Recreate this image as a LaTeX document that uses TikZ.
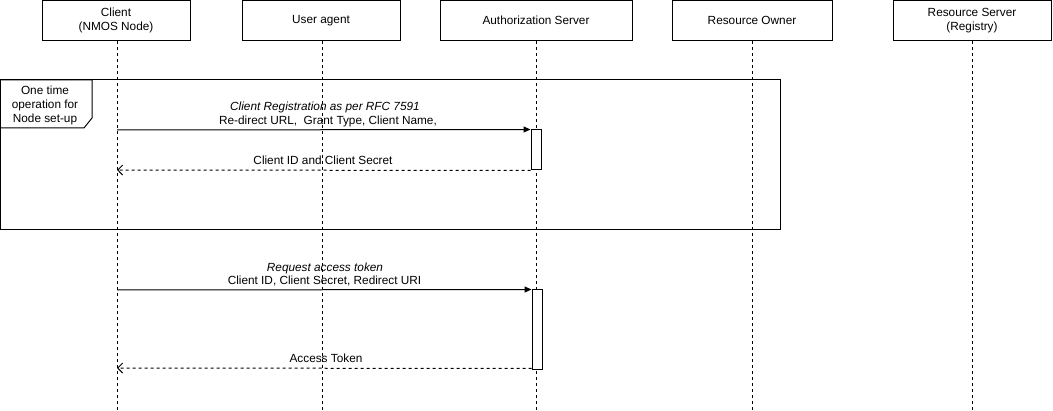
\documentclass[tikz,border=0pt]{standalone}
\usepackage{fontspec}
\setmainfont{Liberation Sans}
\usetikzlibrary{arrows.meta}
\begin{document}
\begin{tikzpicture}[x=1pt,y=-1pt,
  txt/.style={font=\fontsize{11.8}{14}\selectfont},
  hdr/.style={draw, line width=1pt, minimum width=#1, minimum height=40pt, inner sep=0pt, align=center, txt, fill=white},
  life/.style={line width=1pt, dash pattern=on 3pt off 3pt},
  act/.style={draw, fill=white, minimum width=10pt, minimum height=#1, inner sep=0pt, line width=1pt},
  msg/.style={line width=1pt, -{Triangle[length=7pt,width=6pt]}},
  ret/.style={line width=1pt, dash pattern=on 3pt off 3pt, -{Straight Barb[length=5pt,width=10pt]}},
  lbl/.style={txt, inner sep=0pt}]
\useasboundingbox (0,0) rectangle (1053,411);
% headers
\node[hdr=148pt] (c)  at (116,20.5) {Client\\(NMOS Node)};
\node[hdr=158pt] (ua) at (321,20.5) {User agent};
\node[hdr=192pt] (as) at (536,20.5) {Authorization Server};
\node[hdr=160pt] (ro) at (752,20.5) {Resource Owner};
\node[hdr=158pt] (rs) at (972,20.5) {Resource Server\\(Registry)};
% lifeline ends
\coordinate (ce)  at (117,411);
\coordinate (uae) at (322,411);
\coordinate (ase) at (536,411);
\coordinate (roe) at (752,411);
\coordinate (rse) at (972,411);
\draw[life] (c.south -| ce) -- (ce);
\draw[life] (ua.south -| uae) -- (uae);
\draw[life] (as.south) -- (ase);
\draw[life] (ro.south) -- (roe);
\draw[life] (rs.south) -- (rse);
% frame
\draw[line width=1pt] (0,80) rectangle (780,230);
\draw[line width=1pt] (0,80) -- (92,80) -- (92,118) -- (84,128) -- (0,128);
\node[txt, align=center, inner sep=0pt] (tab) at (45,105) {One time\\operation for\\Node set-up};
% activations
\node[act=40pt] (a1) at (536,150) {};
\node[act=80pt] (a2) at (537,330) {};
% messages
\coordinate (c1) at (117,130);
\coordinate (c2) at (117,170);
\coordinate (c3) at (117,290);
\coordinate (c4) at (117,368);
\draw[msg] (c1) -- (a1.north west);
\draw[ret] (a1.south west) -- (c2);
\draw[msg] (c3) -- (a2.north west);
\draw[ret] ([yshift=2pt]a2.south west) -- (c4);
% labels
\node[lbl, font=\fontsize{11.8}{14}\selectfont\itshape] (l1) at (325,107) {Client Registration as per RFC 7591};
\node[lbl] (l2) at (328,121) {Re-direct URL,\ \ Grant Type, Client Name,};
\node[lbl] (l3) at (323,160) {Client ID and Client Secret};
\node[lbl, font=\fontsize{11.8}{14}\selectfont\itshape] (l4) at (325,268) {Request access token};
\node[lbl] (l5) at (324.5,281) {Client ID, Client Secret, Redirect URI};
\node[lbl] (l6) at (326,358) {Access Token};
\end{tikzpicture}
\end{document}
